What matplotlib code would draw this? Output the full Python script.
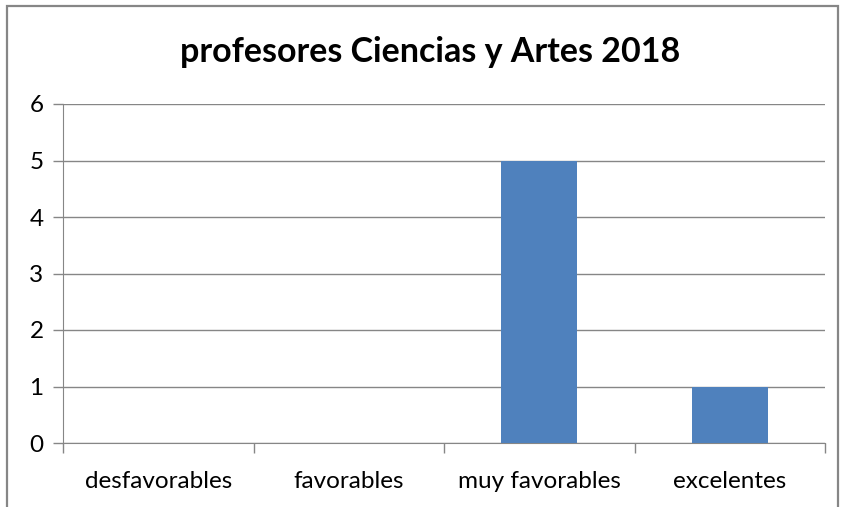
import matplotlib
matplotlib.use("Agg")
import matplotlib.pyplot as plt
from matplotlib.patches import Rectangle

# datos
categorias = ["desfavorables", "favorables", "muy favorables", "excelentes"]
valores = [0, 0, 5, 1]
titulo = "profesores Ciencias y Artes 2018"

plt.rcParams['font.family'] = ['Lato', 'DejaVu Sans']

fig = plt.figure(figsize=(8.43, 5.07), dpi=100)
ax = fig.add_axes([63/843, 64/507, (825-63)/843, (443-104)/507])

gris = "#868686"
ax.bar(range(len(categorias)), valores, width=0.4, color="#4F81BD", zorder=3)

ax.set_xlim(-0.5, len(categorias) - 0.5)
ax.set_ylim(0, 6)
ax.set_yticks(range(0, 7))
ax.yaxis.grid(True, color=gris, linewidth=1, zorder=0)

ax.set_xticks(range(len(categorias)))
ax.set_xticklabels(categorias, fontsize=17.5)
ax.set_xticks([i - 0.5 for i in range(len(categorias) + 1)], minor=True)
ax.tick_params(axis="x", which="major", length=0, pad=20)
ax.tick_params(axis="x", which="minor", length=7, color=gris, width=1)
ax.tick_params(axis="y", length=7, color=gris, width=1, pad=7, labelsize=17.5)

for s in ["top", "right"]:
    ax.spines[s].set_visible(False)
ax.spines["left"].set_color(gris)
ax.spines["bottom"].set_color(gris)

fig.text(430/843, 1 - 52/507, titulo, ha="center", va="center",
         fontsize=24.5, fontweight="bold")

# marco del grafico
fig.patches.append(Rectangle((6.5/843, -0.05), (838-6.5)/843, 1.05 - 6/507,
                             transform=fig.transFigure, fill=False,
                             edgecolor=gris, linewidth=1.6))

fig.savefig("out.png", dpi=100)
